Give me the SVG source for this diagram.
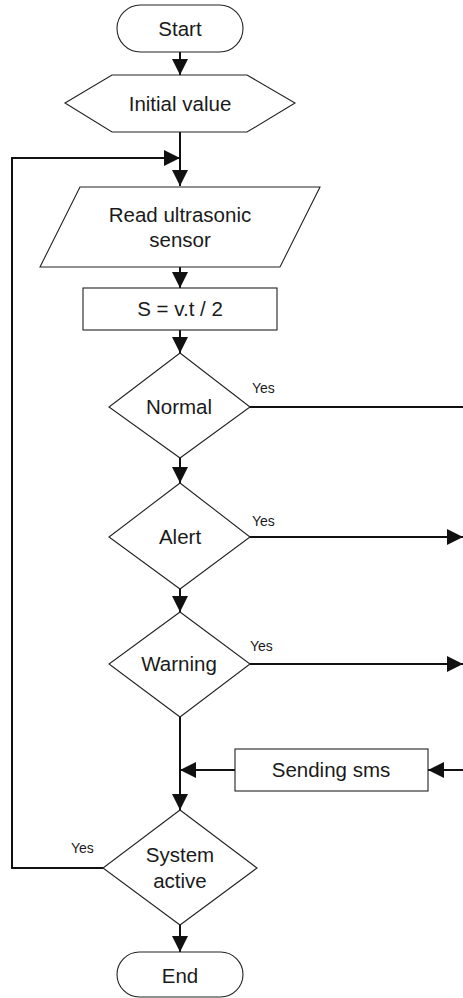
<svg xmlns="http://www.w3.org/2000/svg" width="463" height="998" viewBox="0 0 463 998">
  <defs>
    <marker id="arrow" viewBox="0 0 16 16" refX="16" refY="8" markerWidth="16" markerHeight="16" markerUnits="userSpaceOnUse" orient="auto">
      <path d="M0,0 L16,8 L0,16 Z" fill="#111"/>
    </marker>
    <style>
      .shape { fill: #fff; stroke: #222; stroke-width: 1.1; }
      .flow { fill: none; stroke: #111; stroke-width: 2; }
      .lbl { font-family: "Liberation Sans", Arial, sans-serif; font-size: 20.5px; fill: #1a1a1a; text-anchor: middle; }
      .yes { font-family: "Liberation Sans", Arial, sans-serif; font-size: 14px; fill: #1a1a1a; }
    </style>
  </defs>
  <rect width="463" height="998" fill="#fff"/>

  <!-- connectors -->
  <g id="connectors">
    <line class="flow" x1="180" y1="52" x2="180" y2="75" marker-end="url(#arrow)"/>
    <line class="flow" x1="180" y1="132" x2="180" y2="186" marker-end="url(#arrow)"/>
    <polyline class="flow" points="103,868 12,868 12,158 180,158" marker-end="url(#arrow)"/>
    <line class="flow" x1="180" y1="267" x2="180" y2="288" marker-end="url(#arrow)"/>
    <line class="flow" x1="180" y1="330" x2="180" y2="353" marker-end="url(#arrow)"/>
    <line class="flow" x1="180" y1="458" x2="180" y2="483" marker-end="url(#arrow)"/>
    <line class="flow" x1="180" y1="589" x2="180" y2="612" marker-end="url(#arrow)"/>
    <line class="flow" x1="180" y1="717" x2="180" y2="810" marker-end="url(#arrow)"/>
    <line class="flow" x1="180" y1="925" x2="180" y2="952" marker-end="url(#arrow)"/>
    <line class="flow" x1="250" y1="407" x2="463" y2="407"/>
    <line class="flow" x1="250" y1="537" x2="463" y2="537" marker-end="url(#arrow)"/>
    <line class="flow" x1="250" y1="664" x2="463" y2="664" marker-end="url(#arrow)"/>
    <line class="flow" x1="235" y1="770" x2="180" y2="770" marker-end="url(#arrow)"/>
    <line class="flow" x1="463" y1="770" x2="428" y2="770" marker-end="url(#arrow)"/>
    <text class="yes" x="252" y="393">Yes</text>
    <text class="yes" x="252" y="526">Yes</text>
    <text class="yes" x="250" y="651">Yes</text>
    <text class="yes" x="71" y="853">Yes</text>
  </g>

  <g id="start">
    <rect class="shape" x="117" y="5" width="126" height="47" rx="23.5"/>
    <text class="lbl" x="180" y="36">Start</text>
  </g>

  <g id="initial-value">
    <polygon class="shape" points="65,103 112,75 247,75 295,103 247,132 112,132"/>
    <text class="lbl" x="180" y="111">Initial value</text>
  </g>

  <g id="read-sensor">
    <polygon class="shape" points="80,187 320,187 280,267 40,267"/>
    <text class="lbl" x="180" y="222">Read ultrasonic</text>
    <text class="lbl" x="180" y="247">sensor</text>
  </g>

  <g id="compute-distance">
    <rect class="shape" x="83" y="288" width="194" height="42"/>
    <text class="lbl" x="180" y="316">S = v.t / 2</text>
  </g>

  <g id="normal">
    <polygon class="shape" points="180,353 250,407 180,458 109,407"/>
    <text class="lbl" x="179" y="414">Normal</text>
  </g>

  <g id="alert">
    <polygon class="shape" points="180,483 250,537 180,589 109,537"/>
    <text class="lbl" x="180" y="544">Alert</text>
  </g>

  <g id="warning">
    <polygon class="shape" points="180,612 250,664 180,717 109,664"/>
    <text class="lbl" x="179" y="671">Warning</text>
  </g>

  <g id="sending-sms">
    <rect class="shape" x="235" y="749" width="193" height="42"/>
    <text class="lbl" x="331" y="777">Sending sms</text>
  </g>

  <g id="system-active">
    <polygon class="shape" points="180,810 257,868 180,925 103,868"/>
    <text class="lbl" x="180" y="862">System</text>
    <text class="lbl" x="180" y="888">active</text>
  </g>

  <g id="end">
    <rect class="shape" x="117" y="952" width="126" height="45" rx="22.5"/>
    <text class="lbl" x="180" y="983">End</text>
  </g>
</svg>
